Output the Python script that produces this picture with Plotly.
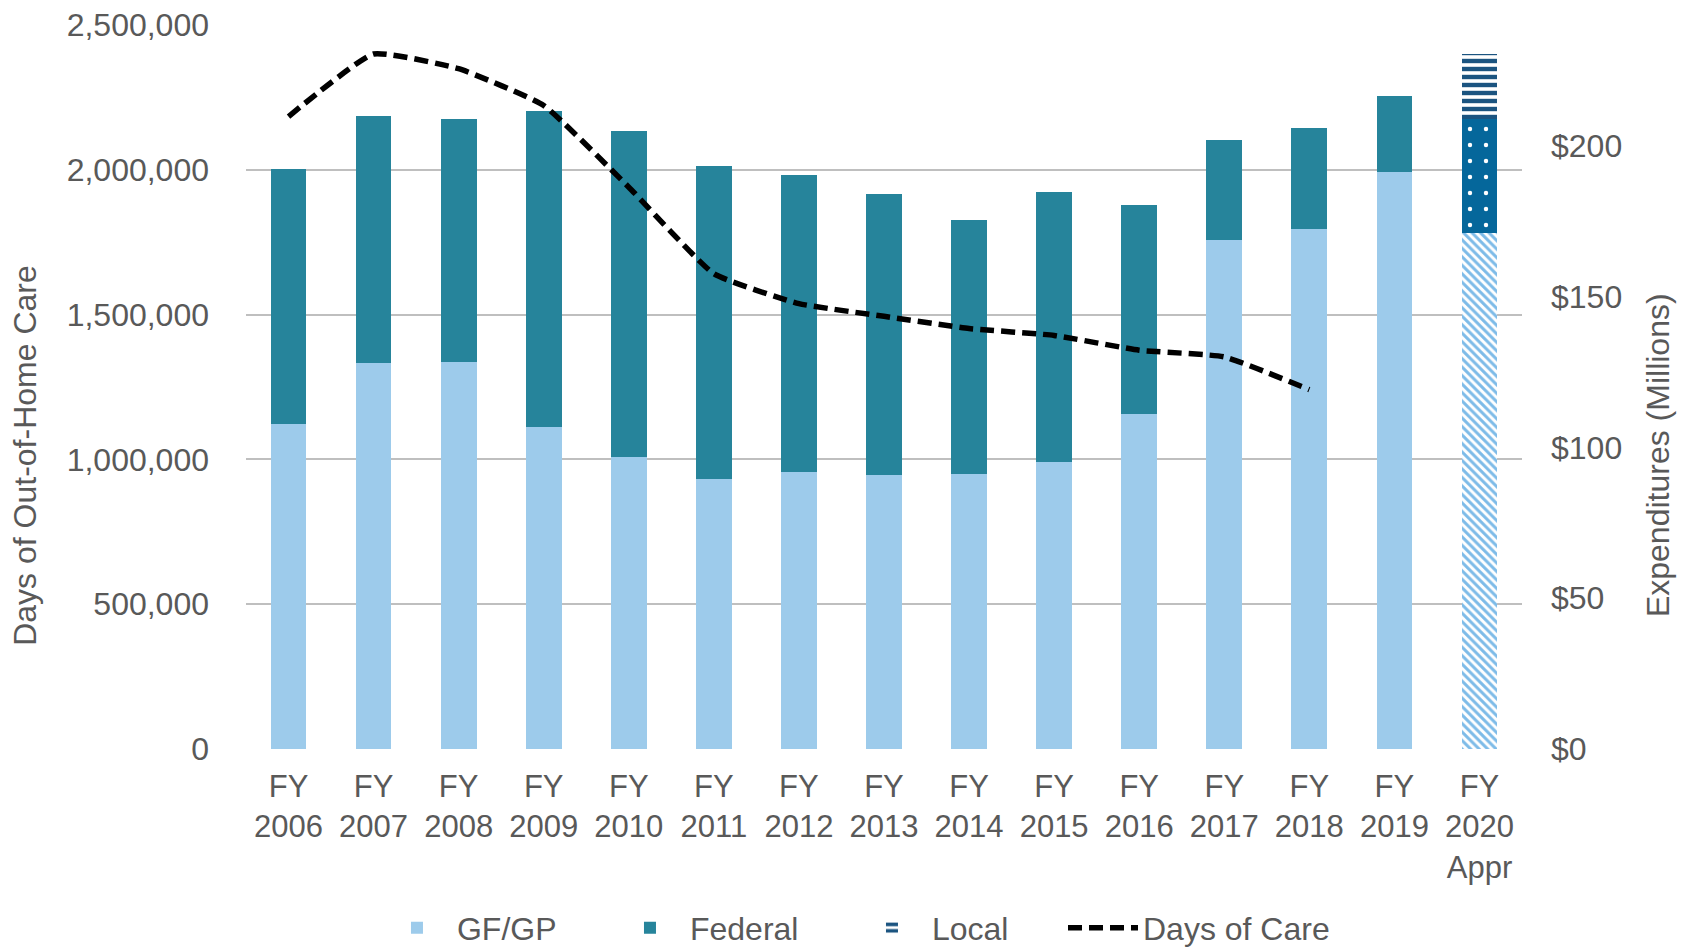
import plotly.graph_objects as go

# categories (fiscal years)
years = ['FY<br>2006', 'FY<br>2007', 'FY<br>2008', 'FY<br>2009', 'FY<br>2010',
         'FY<br>2011', 'FY<br>2012', 'FY<br>2013', 'FY<br>2014', 'FY<br>2015',
         'FY<br>2016', 'FY<br>2017', 'FY<br>2018', 'FY<br>2019', 'FY<br>2020<br>Appr']

# expenditures in millions
gfgp = [107.7, 128.0, 128.2, 106.7, 96.8, 89.4, 91.9, 90.9, 91.0, 95.2,
        110.9, 168.7, 172.4, 191.4, 171.1]
federal = [84.7, 82.0, 80.8, 104.7, 108.0, 103.8, 98.3, 93.2, 84.5, 89.4,
           69.4, 33.1, 33.3, 25.1, 37.9]
local = [None] * 14 + [21.3]

# days of out-of-home care
days = [2184000, 2400000, 2349000, 2222000, 1940000, 1641000, 1538000,
        1494000, 1452000, 1428000, 1377000, 1354000, 1241000]

# common configs
font = 'Liberation Sans, Arial, sans-serif'
fsize = 32
grey = '#595959'
light_blue = '#9dcbeb'
teal = '#26849b'
navy = '#1b5480'
dark_blue = '#05679b'
n = len(years)

fig = go.Figure()

fig.add_trace(go.Bar(
    x=years, y=gfgp, name='GF/GP', yaxis='y', legendwidth=148,
    marker=dict(
        color=light_blue,
        line=dict(width=0),
        pattern=dict(
            shape=[''] * (n - 1) + ['\\'],
            fgcolor=[light_blue] * (n - 1) + ['#7dbbe8'],
            bgcolor=[light_blue] * (n - 1) + ['white'],
            size=6, solidity=0.5, fillmode='overlay', fgopacity=1,
        ),
    ),
))
fig.add_trace(go.Bar(
    x=years, y=federal, name='Federal', yaxis='y', legendwidth=157,
    marker=dict(
        color=teal,
        line=dict(width=0),
        pattern=dict(
            shape=[''] * (n - 1) + ['.'],
            fgcolor=[teal] * (n - 1) + ['white'],
            bgcolor=[teal] * (n - 1) + [dark_blue],
            size=16, solidity=0.06, fillmode='overlay', fgopacity=1,
        ),
    ),
))
fig.add_trace(go.Bar(
    x=years, y=local, name='Local', yaxis='y', legendwidth=126,
    marker=dict(
        color=navy,
        line=dict(width=0),
        pattern=dict(shape='-', fgcolor=navy, bgcolor='white',
                     size=8, solidity=0.55, fillmode='overlay', fgopacity=1),
    ),
))
fig.add_trace(go.Scatter(
    x=years[:len(days)], y=days, name='Days of Care', yaxis='y2', legendwidth=192,
    mode='lines',
    line=dict(color='black', width=5.5, dash='14px,7px', shape='spline', smoothing=0.4),
))

# axis titles sit a bit below the middle of the plot, as in the original
title_font = dict(family=font, size=fsize, color=grey)
fig.add_annotation(text='Days of Out-of-Home Care', textangle=-90,
                   xref='paper', yref='paper', x=-0.1734, y=0.406,
                   xanchor='center', yanchor='middle', showarrow=False, font=title_font)
fig.add_annotation(text='Expenditures (Millions)', textangle=-90,
                   xref='paper', yref='paper', x=1.1066, y=0.406,
                   xanchor='center', yanchor='middle', showarrow=False, font=title_font)

fig.update_layout(
    width=1681,
    height=948,
    barmode='stack',
    bargap=0.58,
    plot_bgcolor='white',
    paper_bgcolor='white',
    font=dict(family=font, size=fsize, color=grey),
    margin=dict(l=246, r=159, t=25, b=199, autoexpand=False),
    xaxis=dict(
        showgrid=False, showline=False, ticks='',
        tickfont=dict(size=31, color=grey),
        ticklabelstandoff=16,
    ),
    yaxis=dict(
        side='right', range=[0, 240], dtick=50, tickprefix='$',
        showgrid=False, zeroline=False, ticks='',
        tickfont=dict(size=fsize, color=grey),
        ticklabelstandoff=28,
    ),
    yaxis2=dict(
        side='left', overlaying='y', range=[0, 2500000], dtick=500000,
        tickformat=',d', showgrid=True, gridcolor='#bfbfbf', gridwidth=1.5,
        zeroline=False, ticks='',
        tickfont=dict(size=fsize, color=grey),
        ticklabelstandoff=36,
    ),
    legend=dict(
        orientation='h', x=0.480, xanchor='center', y=-0.247, yanchor='middle',
        font=dict(size=fsize, color=grey), traceorder='normal',
        itemwidth=70,
    ),
    showlegend=True,
)

# the page body has a default 8px margin, remove it so the figure fills the window
fig.write_html('out.html', config={'displayModeBar': False},
               post_script="document.body.style.margin='0';")
